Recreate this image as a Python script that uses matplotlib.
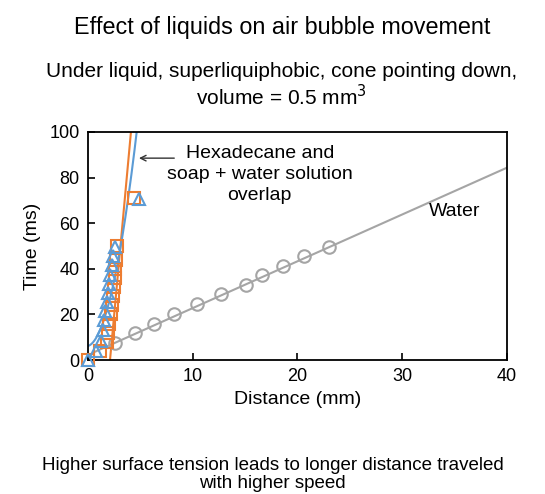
import numpy as np
import matplotlib
matplotlib.use('Agg')
import matplotlib.pyplot as plt

plt.rcParams['font.family'] = ['Liberation Sans', 'DejaVu Sans']

# data
water_dist = [2.6, 4.5, 6.3, 8.2, 10.4, 12.7, 15.1, 16.6, 18.6, 20.6, 23.0]
water_time = [7.6, 12.0, 16.0, 20.4, 24.5, 28.9, 33.0, 37.4, 41.1, 45.8, 49.5]

hexa_dist = [0, 1.1, 1.8, 1.95, 2.05, 2.15, 2.25, 2.35, 2.45, 2.55, 2.6, 2.7, 2.75, 4.35]
hexa_time = [0, 4, 8, 12, 16, 20, 24, 28, 32, 36, 40, 44, 50, 71]

soap_dist = [0, 0.8, 1.25, 1.4, 1.5, 1.65, 1.8, 1.9, 2.0, 2.12, 2.25, 2.4, 2.55, 4.9]
soap_time = [0, 4, 8.5, 13, 17.5, 21.5, 25.5, 29.5, 33.5, 37.5, 41.5, 45.5, 49.5, 70.5]

# trendline coefficients (highest power first) and start of each line
water_fit = [2.05, 2.3]
hexa_fit = [50.0, -105.0]
soap_fit = [4.03, 1.43, 6.2]
water_x0, hexa_x0, soap_x0 = 0.5, 2.1, 0.0

grey = '#A5A5A5'
orange = '#ED7D31'
blue = '#5B9BD5'

fig = plt.figure(figsize=(5.45, 4.94), dpi=100)
ax = fig.add_axes([0.1615, 0.271, 0.7685, 0.462])


def trend(fit, x0, color):
    xs = np.linspace(x0, 40, 2000)
    ax.plot(xs, np.polyval(fit, xs), color=color, lw=1.5, zorder=2)


trend(water_fit, water_x0, grey)
trend(hexa_fit, hexa_x0, orange)
trend(soap_fit, soap_x0, blue)

ax.plot(water_dist, water_time, 'o', mfc='none', mec=grey, ms=9, mew=1.5,
        clip_on=False, zorder=3)
ax.plot(hexa_dist, hexa_time, 's', mfc='none', mec=orange, ms=9, mew=1.5,
        clip_on=False, zorder=4)
ax.plot(soap_dist, soap_time, '^', mfc='none', mec=blue, ms=9, mew=1.5,
        clip_on=False, zorder=5)

ax.set_xlim(0, 40)
ax.set_ylim(0, 100)
ax.set_xticks([0, 10, 20, 30, 40])
ax.set_yticks([0, 20, 40, 60, 80, 100])
ax.tick_params(direction='in', length=5, width=1.2, labelsize=13, pad=6)
for s in ax.spines.values():
    s.set_linewidth(1.3)
ax.set_xlabel('Distance (mm)', fontsize=14, labelpad=4)
ax.set_ylabel('Time (ms)', fontsize=14, labelpad=6)

ax.annotate('', xy=(4.6, 88.5), xytext=(8.5, 88.5),
            arrowprops=dict(arrowstyle='->', color='#333333', lw=1.0))
ax.text(16.4, 81.5, 'Hexadecane and\nsoap + water solution\noverlap',
        ha='center', va='center', fontsize=14, linespacing=1.3)
ax.text(35, 65, 'Water', ha='center', va='center', fontsize=14)

fig.text(0.517, 0.945, 'Effect of liquids on air bubble movement',
         ha='center', va='center', fontsize=16.8)
fig.text(0.516, 0.826, 'Under liquid, superliquiphobic, cone pointing down,\n'
         'volume = 0.5 mm$^3$', ha='center', va='center', fontsize=15,
         linespacing=1.15)
fig.text(0.5, 0.04, 'Higher surface tension leads to longer distance traveled\n'
         'with higher speed', ha='center', va='center', fontsize=13.5,
         linespacing=1.1)

fig.savefig('out.png', dpi=100)
